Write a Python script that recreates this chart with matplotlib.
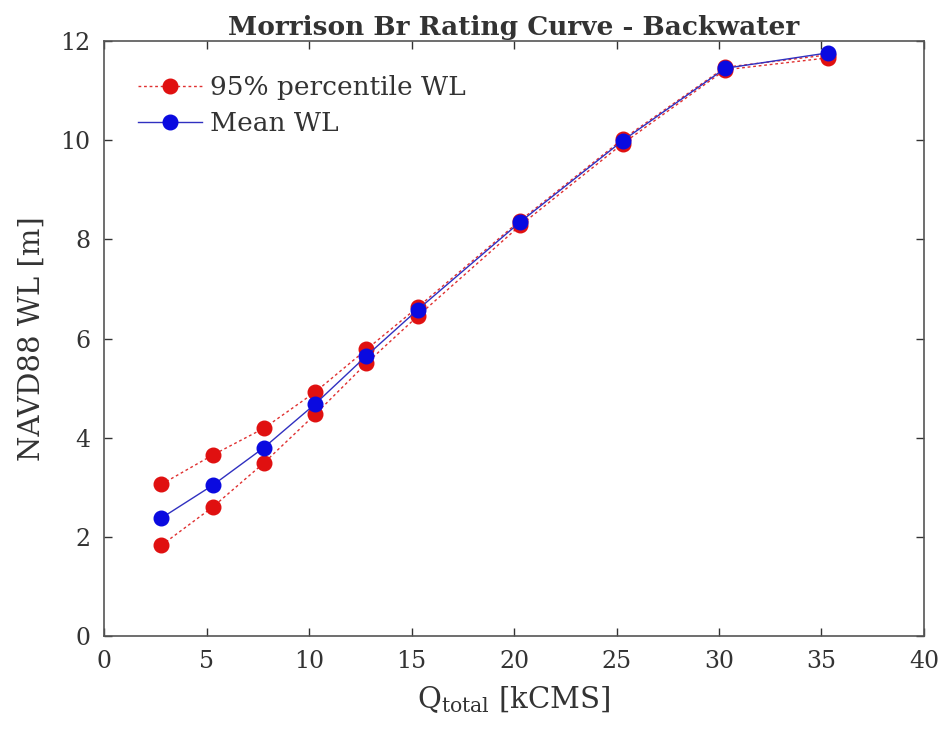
import numpy as np
import matplotlib
matplotlib.use('Agg')
import matplotlib.pyplot as plt

plt.rcParams['font.family'] = 'DejaVu Serif'
plt.rcParams['mathtext.fontset'] = 'dejavuserif'

q = [2.8, 5.3, 7.8, 10.3, 12.8, 15.3, 20.3, 25.3, 30.3, 35.3]
wl_upper = [3.06, 3.65, 4.19, 4.92, 5.78, 6.63, 8.38, 10.02, 11.47, 11.72]
wl_lower = [1.83, 2.60, 3.49, 4.47, 5.50, 6.45, 8.28, 9.93, 11.42, 11.66]
wl_mean = [2.38, 3.04, 3.80, 4.68, 5.65, 6.58, 8.35, 9.99, 11.45, 11.76]

fig = plt.figure(figsize=(9.51, 7.38), dpi=100)
ax = fig.add_axes([0.1094, 0.1382, 0.8622, 0.8062])

ax.plot(q, wl_upper, ls=(0, (2, 2)), lw=1, color='#e03030', marker='o',
        ms=10.5, mfc='#e01010', mec='#e01010', label='95% percentile WL')
ax.plot(q, wl_lower, ls=(0, (2, 2)), lw=1, color='#e03030', marker='o',
        ms=10.5, mfc='#e01010', mec='#e01010')
ax.plot(q, wl_mean, ls='-', lw=1, color='#3030c0', marker='o',
        ms=10.5, mfc='#0a0ae0', mec='#0a0ae0', label='Mean WL')

ax.set_xlim(0, 40)
ax.set_ylim(0, 12)
ax.set_xticks(np.arange(0, 41, 5))
ax.set_yticks(np.arange(0, 13, 2))
ax.tick_params(direction='in', length=6, width=1, top=True, right=True,
               labelsize=17, colors='#333333', pad=10)
for s in ax.spines.values():
    s.set_color('#555555')
    s.set_linewidth(1.2)

ax.set_title('Morrison Br Rating Curve - Backwater', fontweight='bold',
             fontsize=19, color='#333333', pad=4)
ax.set_xlabel(r'Q$_{\mathrm{total}}$ [kCMS]', fontsize=21, color='#333333',
              labelpad=8)
ax.set_ylabel('NAVD88 WL [m]', fontsize=21, color='#333333', labelpad=10)

ax.legend(loc='upper left', frameon=False, fontsize=19, handlelength=2.4,
          handletextpad=0.3, borderaxespad=0.9, labelspacing=0.4,
          labelcolor='#333333')

fig.savefig('out.png', dpi=100)
